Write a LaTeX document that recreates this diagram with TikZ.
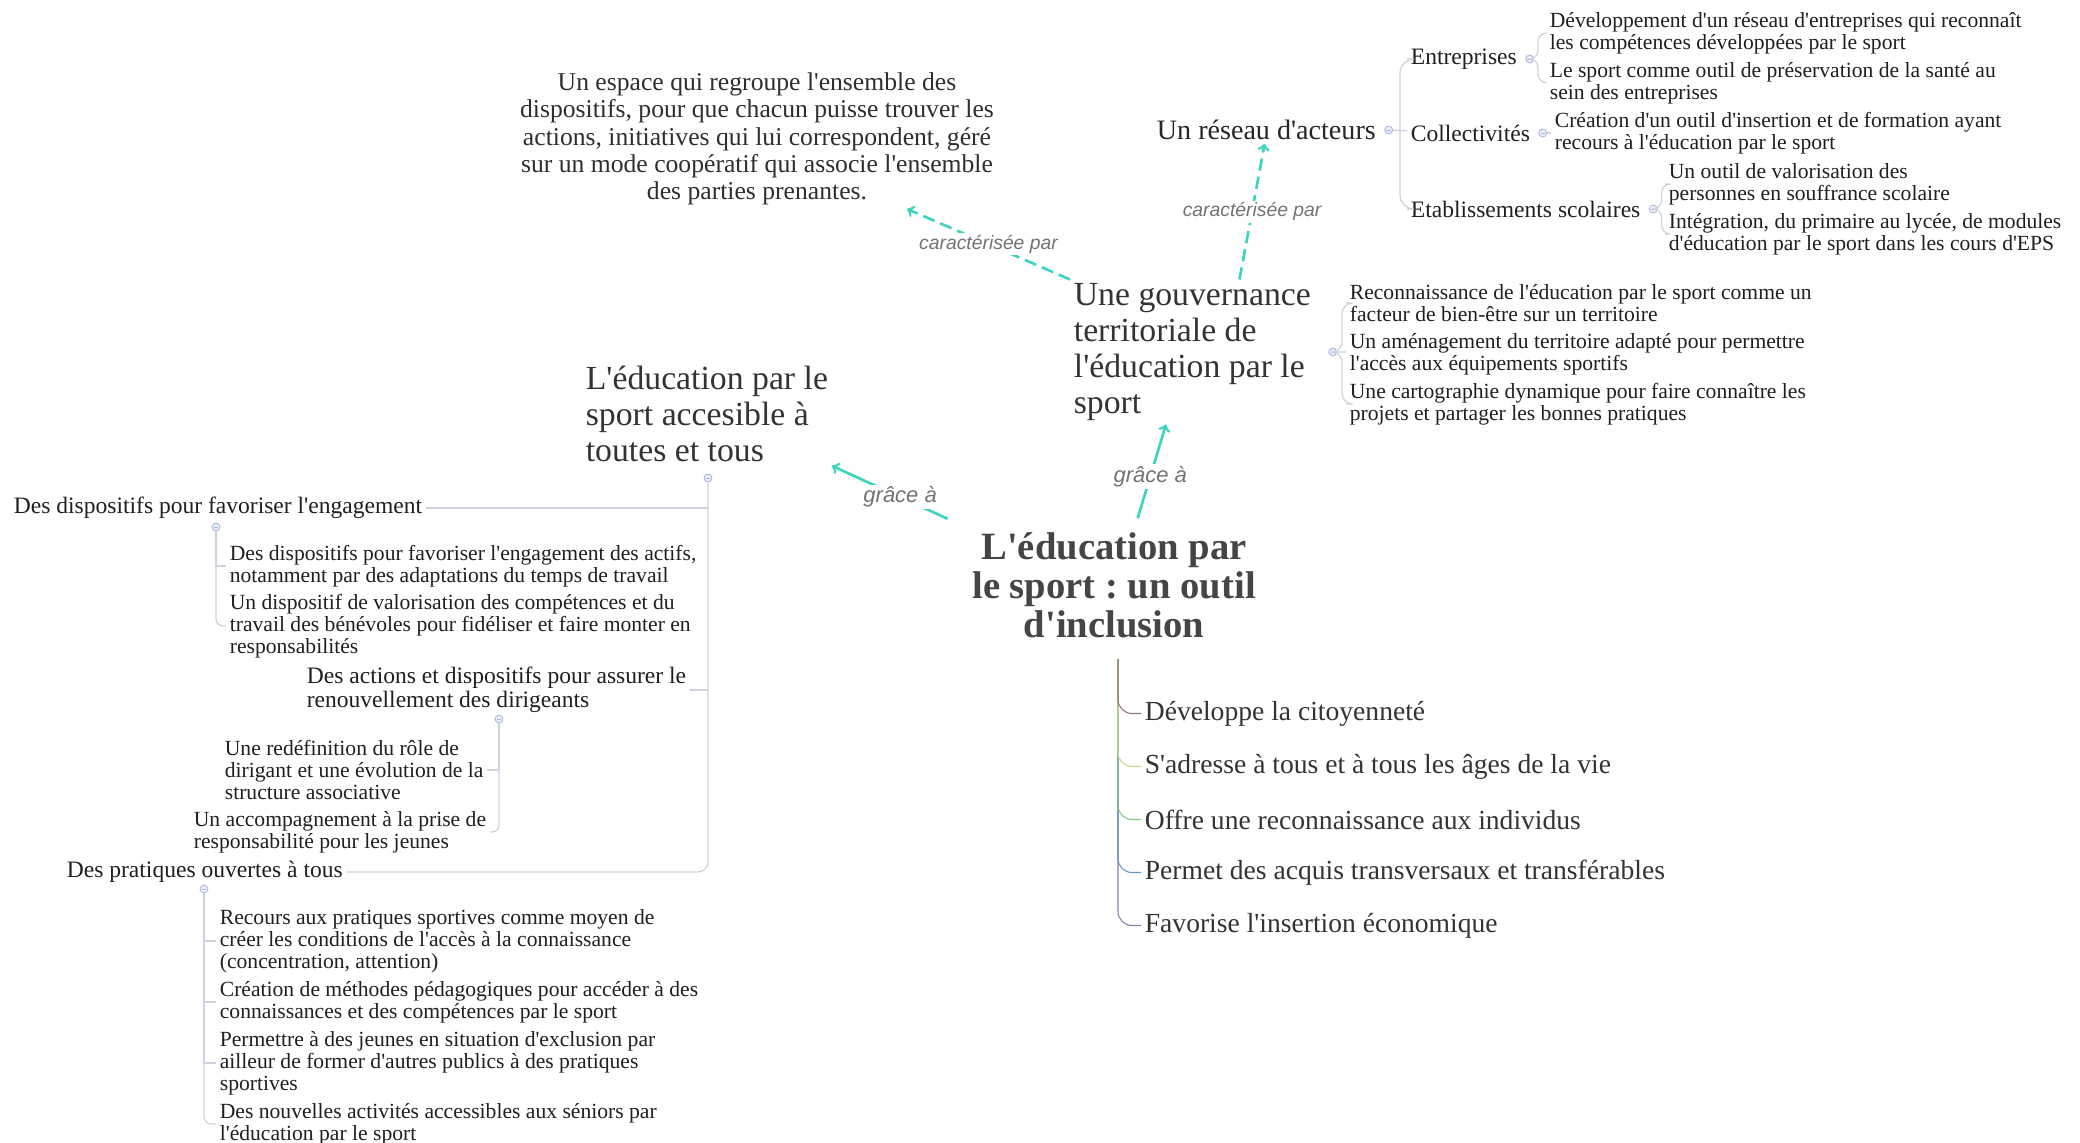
\documentclass[tikz,border=0pt]{standalone}
\usepackage{fontspec}
\setmainfont{Liberation Serif}[Ligatures=TeXOff]
\newfontfamily\labelfont{Liberation Sans}[Ligatures=TeXOff]
\usetikzlibrary{calc}
\frenchspacing

\definecolor{turq}{RGB}{61,212,190}
\definecolor{treeline}{RGB}{205,210,222}
\definecolor{dotblue}{RGB}{170,185,225}
\definecolor{brA}{RGB}{150,115,115}
\definecolor{brB}{RGB}{200,215,140}
\definecolor{brC}{RGB}{130,200,130}
\definecolor{brD}{RGB}{100,150,205}
\definecolor{brE}{RGB}{130,130,170}

\begin{document}
\begin{tikzpicture}[x=0.02cm, y=-0.02cm,
  central/.style={font=\fontsize{22}{22.3}\selectfont\bfseries, text=black!73, align=center, inner sep=2pt},
  topic/.style={font=\fontsize{19.2}{20.5}\selectfont, text=black!80, align=left, inner sep=2pt, anchor=west},
  note/.style={font=\fontsize{14.6}{15.5}\selectfont, text=black!82, align=center, inner sep=2pt},
  branch/.style={font=\fontsize{16}{17}\selectfont, text=black!85, inner sep=2pt, anchor=west},
  sub/.style={font=\fontsize{13.4}{13.7}\selectfont, text=black!88, align=left, inner sep=2pt, anchor=west, yshift=-1.7pt},
  leaf/.style={font=\fontsize{12.3}{12.6}\selectfont, text=black!88, align=left, inner sep=2pt, anchor=west, yshift=-1.7pt},
  item/.style={font=\fontsize{15.7}{16}\selectfont, text=black!80, inner sep=2pt, anchor=west, yshift=-2pt},
  dot/.style={circle, draw=dotblue, fill=dotblue!25, line width=0.5pt, minimum size=4.5pt, inner sep=0pt,
    path picture={\draw[dotblue, line width=0.4pt] ([xshift=1pt]path picture bounding box.west) -- ([xshift=-1pt]path picture bounding box.east);}},
  tree/.style={draw=treeline, line width=0.7pt},
  twig/.style={line width=0.6pt, rounded corners=8pt},
  link/.style={draw=turq, line width=1.5pt, ->},
  dashlink/.style={link, dash pattern=on 7pt off 3.5pt},
  lbl/.style={text=black!55, fill=white, inner sep=1pt, font=\labelfont\itshape\fontsize{#1}{#1}\selectfont},
  lbl/.default=11]

  \useasboundingbox (0,0) rectangle (2080,1143);

  % centre
  \node[central] (central) at (1114, 585) {L'éducation par\\le sport : un outil\\d'inclusion};
  \coordinate (hub) at (1118, 659);

  \node[topic] (acces) at (582, 414) {L'éducation par le\\sport accesible à\\toutes et tous};
  \node[topic] (gouv) at (1070, 352) {Une gouvernance\\territoriale de\\l'éducation par le\\sport};
  \node[note] (espace) at (757, 139) {Un espace qui regroupe l'ensemble des\\dispositifs, pour que chacun puisse trouver les\\actions, initiatives qui lui correspondent, géré\\sur un mode coopératif qui associe l'ensemble\\des parties prenantes.};
  \node[branch] (reseau) at (1153, 130) {Un réseau d'acteurs};

  \draw[link, shorten <=13pt] (central.north west) -- node[lbl=12.5] {grâce à} (acces.south east);
  \draw[link, shorten <=6pt] (central.70) -- node[lbl=12.5] {grâce à} (gouv.-110);
  \draw[dashlink] (gouv.north west) -- node[lbl] {caractérisée par} (espace.-25);
  \draw[dashlink] (gouv.57) -- node[lbl] {caractérisée par} (reseau.-97);

  % reseau d'acteurs
  \node[sub] (entr) at (1407, 56) {Entreprises};
  \node[sub] (coll) at (1407, 130) {Collectivités};
  \node[sub] (etab) at (1407, 206) {Etablissements scolaires};
  \node[leaf] (ent1) at (1546, 30) {Développement d'un réseau d'entreprises qui reconnaît\\les compétences développées par le sport};
  \node[leaf] (ent2) at (1546, 80) {Le sport comme outil de préservation de la santé au\\sein des entreprises};
  \node[leaf] (coll1) at (1551, 130) {Création d'un outil d'insertion et de formation ayant\\recours à l'éducation par le sport};
  \node[leaf] (etab1) at (1665, 181) {Un outil de valorisation des\\personnes en souffrance scolaire};
  \node[leaf] (etab2) at (1665, 231) {Intégration, du primaire au lycée, de modules\\d'éducation par le sport dans les cours d'EPS};

  \node[dot] (resdot) at ($(reseau.east)+(9,0)$) {};
  \node[dot] (entrdot) at ($(entr.east)+(9,0)$) {};
  \node[dot] (colldot) at ($(coll.east)+(9,0)$) {};
  \node[dot] (etabdot) at ($(etab.east)+(9,0)$) {};
  \coordinate (resfork) at ($(resdot.east)!.5!(coll.west)$);
  \draw[tree] (resdot) -- (coll);
  \draw[tree, rounded corners=8pt] (resfork) |- (entr.west);
  \draw[tree, rounded corners=8pt] (resfork) |- (etab.west);
  \draw[tree, rounded corners=5pt] (entrdot.east) -- ++(4,0) |- (ent1.west);
  \draw[tree, rounded corners=5pt] (entrdot.east) -- ++(4,0) |- (ent2.west);
  \draw[tree] (colldot) -- (coll1);
  \draw[tree, rounded corners=5pt] (etabdot.east) -- ++(4,0) |- (etab1.west);
  \draw[tree, rounded corners=5pt] (etabdot.east) -- ++(4,0) |- (etab2.west);

  % gouvernance
  \node[leaf] (gv1) at (1346, 300) {Reconnaissance de l'éducation par le sport comme un\\facteur de bien-être sur un territoire};
  \node[leaf] (gv2) at (1346, 351) {Un aménagement du territoire adapté pour permettre\\l'accès aux équipements sportifs};
  \node[leaf] (gv3) at (1346, 401) {Une cartographie dynamique pour faire connaître les\\projets et partager les bonnes pratiques};
  \node[dot] (gouvdot) at ($(gouv.east)+(18,0)$) {};
  \draw[tree] (gouvdot) -- (gv2);
  \draw[tree, rounded corners=6pt] (gouvdot.east) -- ++(5,0) |- (gv1.west);
  \draw[tree, rounded corners=6pt] (gouvdot.east) -- ++(5,0) |- (gv3.west);

  % accessible a toutes et tous
  \node[sub] (dispo) at (10, 505) {Des dispositifs pour favoriser l'engagement};
  \node[sub] (actions) at (303, 687) {Des actions et dispositifs pour assurer le\\renouvellement des dirigeants};
  \node[sub] (pratiques) at (63, 869) {Des pratiques ouvertes à tous};
  \node[leaf] (dc1) at (226, 563) {Des dispositifs pour favoriser l'engagement des actifs,\\notamment par des adaptations du temps de travail};
  \node[leaf] (dc2) at (226, 623) {Un dispositif de valorisation des compétences et du\\travail des bénévoles pour fidéliser et faire monter en\\responsabilités};
  \node[leaf] (ac1) at (221, 767) {Une redéfinition du rôle de\\dirigant et une évolution de la\\structure associative};
  \node[leaf] (ac2) at (190, 829) {Un accompagnement à la prise de\\responsabilité pour les jeunes};
  \node[leaf] (pc1) at (216, 938) {Recours aux pratiques sportives comme moyen de\\créer les conditions de l'accès à la connaissance\\(concentration, attention)};
  \node[leaf] (pc2) at (216, 999) {Création de méthodes pédagogiques pour accéder à des\\connaissances et des compétences par le sport};
  \node[leaf] (pc3) at (216, 1060) {Permettre à des jeunes en situation d'exclusion par\\ailleur de former d'autres publics à des pratiques\\sportives};
  \node[leaf] (pc4) at (216, 1121) {Des nouvelles activités accessibles aux séniors par\\l'éducation par le sport};

  \node[dot] (accesdot) at (708, 478) {};
  \node[dot] (dispodot) at (216, 527) {};
  \node[dot] (actdot) at (499, 719) {};
  \node[dot] (pratdot) at (204, 889) {};
  \draw[tree, rounded corners=6pt] (accesdot.south) |- (pratiques.east);
  \draw[tree] (dispo.east) -- (dispo.east -| accesdot);
  \draw[tree] (actions.east) -- (actions.east -| accesdot);
  \draw[tree] (dispodot.south) |- (dc1.west);
  \draw[tree, rounded corners=4pt] (dispodot.south) |- (dc2.west);
  \draw[tree] (actdot.south) |- (ac1.east);
  \draw[tree, rounded corners=4pt] (actdot.south) |- (ac2.east);
  \draw[tree] (pratdot.south) |- (pc1.west);
  \draw[tree] (pratdot.south) |- (pc2.west);
  \draw[tree] (pratdot.south) |- (pc3.west);
  \draw[tree, rounded corners=4pt] (pratdot.south) |- (pc4.west);

  % qualites
  \node[item] (it1) at (1141, 710) {Développe la citoyenneté};
  \node[item] (it2) at (1141, 763) {S'adresse à tous et à tous les âges de la vie};
  \node[item] (it3) at (1141, 816) {Offre une reconnaissance aux individus};
  \node[item] (it4) at (1141, 869) {Permet des acquis transversaux et transférables};
  \node[item] (it5) at (1141, 922) {Favorise l'insertion économique};
  \draw[twig, brE] (hub) |- (it5.west);
  \draw[twig, brD] (hub) |- (it4.west);
  \draw[twig, brC] (hub) |- (it3.west);
  \draw[twig, brB] (hub) |- (it2.west);
  \draw[twig, brA] (hub) |- (it1.west);
\end{tikzpicture}
\end{document}
